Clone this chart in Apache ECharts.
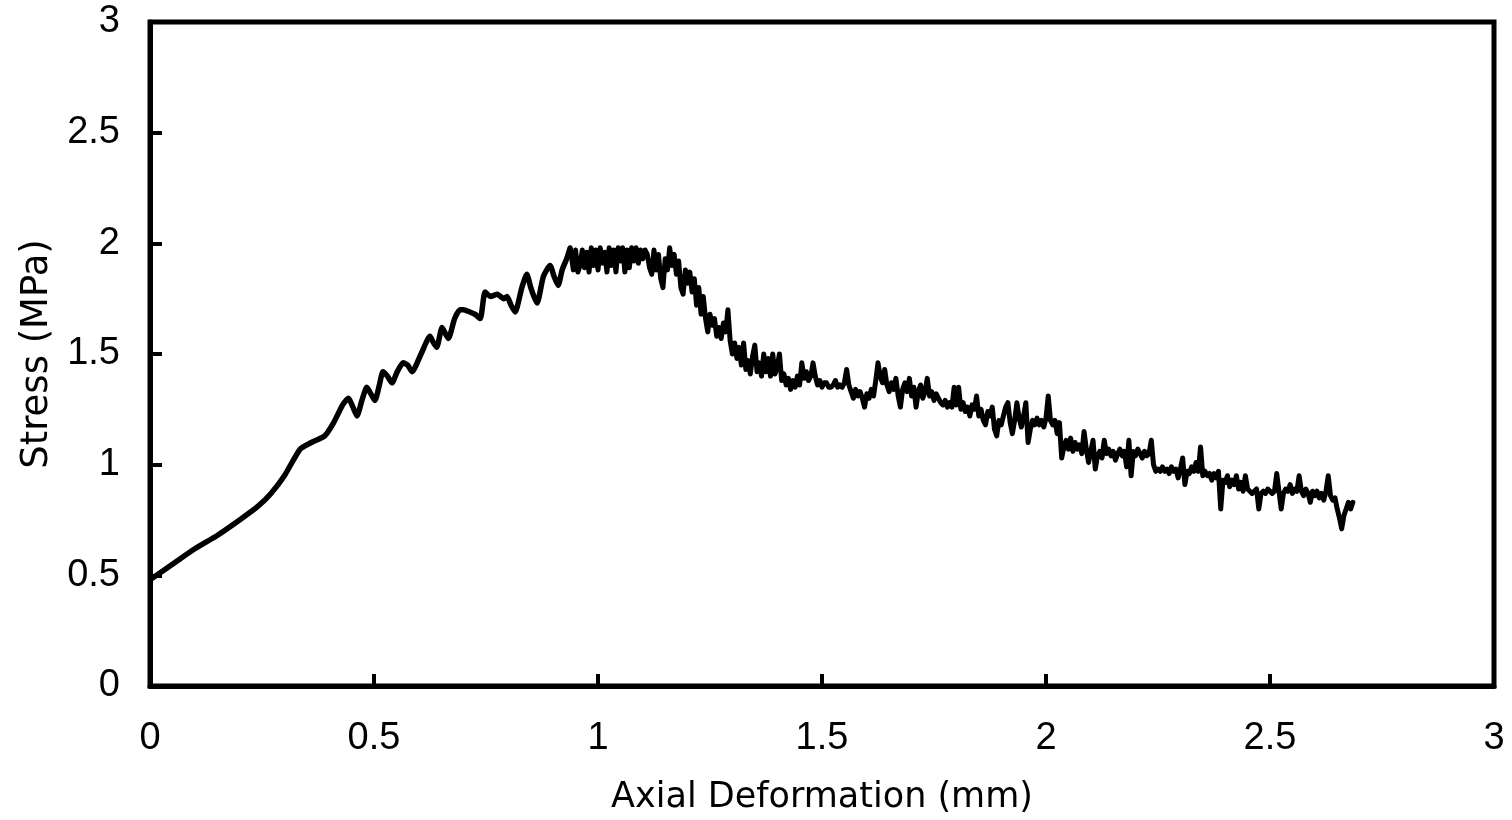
<!DOCTYPE html>
<html>
<head>
<meta charset="utf-8">
<script src="https://cdn.jsdelivr.net/npm/echarts@6/dist/echarts.min.js"></script>
<style>
html,body{margin:0;padding:0;background:#fff;}
#chart{width:1512px;height:820px;}
</style>
</head>
<body>
<div id="chart"></div>
<script>
// Pre-peak (hardening) branch
const strainRise = [
0,0.05,0.10,0.15,0.20,0.24,0.27,0.30,0.335,0.36,
0.39,0.41,0.43,0.443,0.453,0.462,0.473,0.484,0.493,0.502,
0.512,0.52,0.53,0.54,0.552,0.565,0.575,0.585,0.605,0.625,
0.633,0.64,0.652,0.66,0.666,0.68,0.692,0.70,0.714,0.725,
0.737,0.748,0.76,0.775,0.79,0.797,0.806,0.815,0.83,0.841,
0.85,0.857,0.864,0.878,0.893,0.902,0.911,0.92,0.93,0.938
];
const stressRise = [
0.48,0.55,0.62,0.68,0.75,0.81,0.87,0.95,1.07,1.10,
1.13,1.19,1.27,1.30,1.26,1.22,1.29,1.35,1.32,1.29,
1.36,1.42,1.40,1.37,1.42,1.46,1.45,1.42,1.50,1.58,
1.55,1.53,1.62,1.59,1.57,1.66,1.70,1.70,1.69,1.68,
1.66,1.78,1.76,1.77,1.75,1.76,1.72,1.69,1.80,1.86,
1.80,1.76,1.73,1.85,1.90,1.85,1.81,1.88,1.93,1.98
];
// Peak and post-peak (softening) branch
const strainPost = [
0.945,0.95,0.955,0.96,0.965,0.97,0.975,0.98,0.985,0.99,
0.995,1.00,1.005,1.01,1.015,1.02,1.025,1.03,1.035,1.04,
1.045,1.05,1.055,1.06,1.065,1.07,1.075,1.08,1.085,1.09,
1.095,1.10,1.105,1.11,1.115,1.12,1.125,1.13,1.135,1.14,
1.145,1.15,1.155,1.16,1.165,1.17,1.175,1.18,1.185,1.19,
1.195,1.20,1.205,1.21,1.215,1.22,1.225,1.23,1.235,1.24,
1.245,1.25,1.255,1.26,1.265,1.27,1.275,1.28,1.285,1.29,
1.295,1.30,1.305,1.31,1.315,1.32,1.325,1.33,1.335,1.34,
1.345,1.35,1.355,1.36,1.365,1.37,1.375,1.38,1.385,1.39,
1.395,1.40,1.405,1.41,1.415,1.42,1.425,1.43,1.435,1.44,
1.445,1.45,1.455,1.46,1.465,1.47,1.475,1.48,1.485,1.49,
1.495,1.50,1.505,1.51,1.515,1.52,1.525,1.53,1.535,1.54,
1.545,1.55,1.555,1.56,1.565,1.57,1.575,1.58,1.585,1.59,
1.595,1.60,1.605,1.61,1.615,1.62,1.625,1.63,1.635,1.64,
1.645,1.65,1.655,1.66,1.665,1.67,1.675,1.68,1.685,1.69,
1.695,1.70,1.705,1.71,1.715,1.72,1.725,1.73,1.735,1.74,
1.745,1.75,1.755,1.76,1.765,1.77,1.775,1.78,1.785,1.79,
1.795,1.80,1.805,1.81,1.815,1.82,1.825,1.83,1.835,1.84,
1.845,1.85,1.855,1.86,1.865,1.87,1.875,1.88,1.885,1.89,
1.895,1.90,1.905,1.91,1.915,1.92,1.925,1.93,1.935,1.94,
1.945,1.95,1.955,1.96,1.965,1.97,1.975,1.98,1.985,1.99,
1.995,2.00,2.005,2.01,2.015,2.02,2.025,2.03,2.035,2.04,
2.045,2.05,2.055,2.06,2.065,2.07,2.075,2.08,2.085,2.09,
2.095,2.10,2.105,2.11,2.115,2.12,2.125,2.13,2.135,2.14,
2.145,2.15,2.155,2.16,2.165,2.17,2.175,2.18,2.185,2.19,
2.195,2.20,2.205,2.21,2.215,2.22,2.225,2.23,2.235,2.24,
2.245,2.25,2.255,2.26,2.265,2.27,2.275,2.28,2.285,2.29,
2.295,2.30,2.305,2.31,2.315,2.32,2.325,2.33,2.335,2.34,
2.345,2.35,2.355,2.36,2.365,2.37,2.375,2.38,2.385,2.39,
2.395,2.40,2.405,2.41,2.415,2.42,2.425,2.43,2.435,2.44,
2.445,2.45,2.455,2.46,2.465,2.47,2.475,2.48,2.485,2.49,
2.495,2.50,2.505,2.51,2.515,2.52,2.525,2.53,2.535,2.54,
2.545,2.55,2.555,2.56,2.565,2.57,2.575,2.58,2.585,2.59,
2.595,2.60,2.605,2.61,2.615,2.62,2.625,2.63,2.635,2.64,
2.645,2.65,2.655,2.66,2.665,2.67,2.675,2.68,2.685
];
const stressPost = [
1.88,1.97,1.87,1.90,1.97,1.89,1.96,1.87,1.98,1.90,
1.97,1.88,1.98,1.91,1.96,1.87,1.98,1.90,1.97,1.87,
1.98,1.92,1.98,1.87,1.97,1.89,1.98,1.92,1.98,1.91,
1.97,1.93,1.97,1.95,1.89,1.86,1.97,1.88,1.95,1.84,
1.80,1.93,1.88,1.98,1.90,1.95,1.86,1.92,1.80,1.77,
1.88,1.82,1.87,1.78,1.84,1.72,1.80,1.68,1.76,1.66,
1.60,1.68,1.63,1.66,1.58,1.62,1.57,1.64,1.60,1.70,
1.56,1.50,1.55,1.48,1.53,1.45,1.55,1.43,1.47,1.41,
1.49,1.54,1.42,1.46,1.40,1.50,1.42,1.48,1.40,1.50,
1.41,1.44,1.50,1.38,1.41,1.36,1.39,1.34,1.38,1.35,
1.40,1.36,1.46,1.39,1.42,1.38,1.40,1.46,1.40,1.36,
1.38,1.35,1.37,1.37,1.35,1.35,1.36,1.38,1.35,1.36,
1.35,1.37,1.43,1.36,1.33,1.30,1.34,1.31,1.33,1.30,
1.26,1.32,1.30,1.34,1.31,1.38,1.46,1.40,1.37,1.43,
1.36,1.33,1.37,1.34,1.39,1.31,1.26,1.34,1.37,1.33,
1.39,1.31,1.35,1.26,1.33,1.36,1.30,1.33,1.39,1.31,
1.33,1.29,1.32,1.30,1.28,1.27,1.29,1.26,1.28,1.26,
1.35,1.27,1.35,1.25,1.28,1.24,1.26,1.22,1.27,1.25,
1.31,1.22,1.25,1.20,1.18,1.24,1.22,1.26,1.16,1.13,
1.20,1.18,1.22,1.26,1.28,1.19,1.14,1.20,1.28,1.21,
1.17,1.22,1.28,1.10,1.16,1.20,1.18,1.21,1.18,1.20,
1.17,1.21,1.31,1.20,1.18,1.20,1.14,1.19,1.03,1.08,
1.11,1.07,1.12,1.06,1.10,1.07,1.09,1.05,1.15,1.07,
1.01,1.06,1.11,0.98,1.04,1.06,1.03,1.11,1.05,1.07,
1.04,1.06,1.02,1.05,1.07,1.04,1.06,0.99,1.11,0.95,
1.06,1.04,1.07,1.05,1.03,1.06,1.04,1.05,1.11,1.00,
0.97,0.98,0.97,0.99,0.97,0.98,0.96,0.99,0.97,0.98,
0.94,0.98,1.03,0.91,0.97,0.96,0.99,0.97,1.01,0.97,
1.08,0.95,0.97,0.95,0.96,0.93,0.96,0.94,0.97,0.80,
0.93,0.92,0.95,0.90,0.93,0.91,0.95,0.89,0.92,0.88,
0.95,0.89,0.88,0.87,0.88,0.89,0.80,0.87,0.88,0.87,
0.89,0.88,0.87,0.88,0.96,0.88,0.80,0.87,0.89,0.88,
0.91,0.87,0.89,0.88,0.95,0.88,0.86,0.89,0.87,0.83,
0.88,0.86,0.88,0.85,0.87,0.84,0.88,0.95,0.86,0.84,
0.85,0.80,0.76,0.71,0.77,0.80,0.83,0.80,0.83
];
const xTicks = [0, 0.5, 1, 1.5, 2, 2.5, 3];
const yTicks = [0, 0.5, 1, 1.5, 2, 2.5, 3];

const risePairs = strainRise.map((x, i) => [x, stressRise[i]]);
const postPairs = [[strainRise[strainRise.length - 1], stressRise[stressRise.length - 1]]]
  .concat(strainPost.map((x, i) => [x, stressPost[i]]));

const chart = echarts.init(document.getElementById('chart'));
const labelFont = 'Liberation Sans, Arial, sans-serif';
const titleFont = 'DejaVu Sans, sans-serif';
function axisCommon(ticks) {
  return {
    type: 'value',
    min: ticks[0],
    max: ticks[ticks.length - 1],
    interval: ticks[1] - ticks[0],
    axisLine: { show: true, lineStyle: { color: '#000', width: 5 } },
    axisTick: { show: true, inside: true, length: 12, lineStyle: { color: '#000', width: 4 } },
    splitLine: { show: false },
    axisLabel: { color: '#000', fontSize: 38, fontFamily: labelFont },
    nameLocation: 'middle'
  };
}
const xAxis = Object.assign(axisCommon(xTicks), {
  name: 'Axial Deformation (mm)',
  nameGap: 94,
  nameTextStyle: { color: '#000', fontSize: 35, fontFamily: titleFont }
});
xAxis.axisLabel.margin = 34;
const yAxis = Object.assign(axisCommon(yTicks), {
  name: 'Stress (MPa)',
  nameGap: 93,
  nameTextStyle: { color: '#000', fontSize: 37, fontFamily: titleFont }
});
yAxis.axisLabel.margin = 30;

chart.setOption({
  animation: false,
  backgroundColor: '#fff',
  grid: { left: 150, right: 18, top: 22, bottom: 134, show: true, borderColor: '#000', borderWidth: 5 },
  xAxis: xAxis,
  yAxis: yAxis,
  series: [
    { type: 'line', data: risePairs, showSymbol: false, smooth: 0.2,
      lineStyle: { color: '#000', width: 5.5 }, z: 3 },
    { type: 'line', data: postPairs, showSymbol: false, smooth: false,
      lineStyle: { color: '#000', width: 5, join: 'round', cap: 'round' }, z: 3 }
  ]
});
</script>
</body>
</html>
